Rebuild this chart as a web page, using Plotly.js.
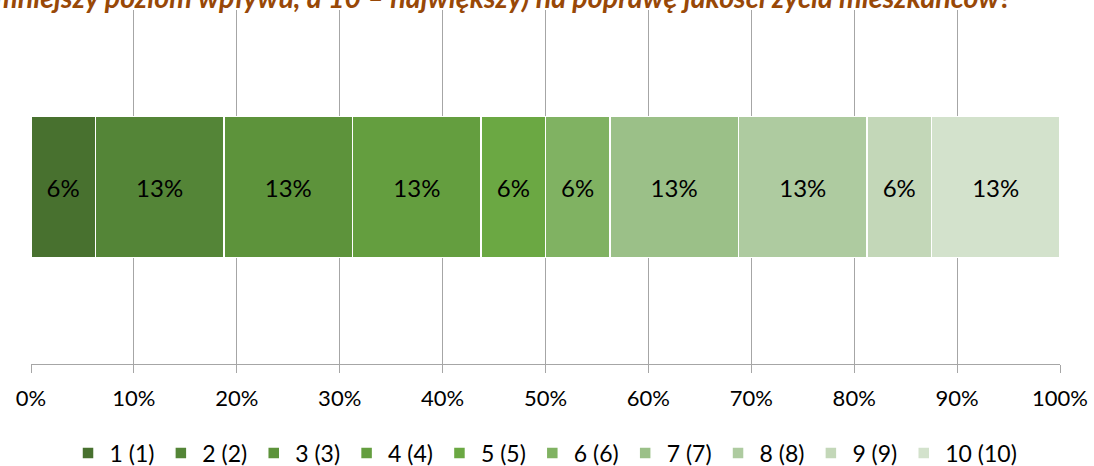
<!DOCTYPE html>
<html>
<head>
<meta charset="utf-8">
<script src="https://cdn.plot.ly/plotly-3.0.1.min.js"></script>
<style>
  html, body { margin: 0; padding: 0; background: #ffffff; }
  #chart { width: 1094px; height: 466px; }
</style>
</head>
<body>
<div id="chart"></div>
<script>
// ---- data ----
const categories = ['Ocena'];
const seriesNames = ['1 (1)', '2 (2)', '3 (3)', '4 (4)', '5 (5)', '6 (6)', '7 (7)', '8 (8)', '9 (9)', '10 (10)'];
const shares = [6.25, 12.5, 12.5, 12.5, 6.25, 6.25, 12.5, 12.5, 6.25, 12.5];
const tickValues = [0, 10, 20, 30, 40, 50, 60, 70, 80, 90, 100];
const tickLabels = ['0%', '10%', '20%', '30%', '40%', '50%', '60%', '70%', '80%', '90%', '100%'];
const titleText = 'mniejszy poziom wpływu, a 10 – największy) na poprawę jakości życia mieszkańców?';

// ---- palette ----
const palette = ['#48712f', '#548537', '#5d933b', '#649e3f', '#6ba843', '#80b262', '#9bc088', '#aecba0', '#c3d7b8', '#d3e2cc'];

const FONT = 'Lato, "Open Sans", sans-serif';

const traces = seriesNames.map((name, i) => ({
  type: 'bar',
  orientation: 'h',
  name: name,
  y: categories,
  x: [shares[i]],
  marker: { color: palette[i], line: { color: '#ffffff', width: 1.5 } },
  text: [Math.round(shares[i]) + '%'],
  textposition: 'inside',
  insidetextanchor: 'middle',
  constraintext: 'none',
  textangle: 0,
  textfont: { family: FONT, size: 24, color: '#000000' },
  hoverinfo: 'skip'
}));

const layout = {
  width: 1094,
  height: 466,
  paper_bgcolor: '#ffffff',
  plot_bgcolor: '#ffffff',
  margin: { l: 31, r: 34, t: 10, b: 102, pad: 0 },
  barmode: 'stack',
  bargap: 0.602,
  showlegend: true,
  font: { family: FONT, size: 22, color: '#000000' },
  annotations: [{
    text: '<b><i>' + titleText + '</i></b>',
    font: { family: FONT, size: 28.6, color: '#984807' },
    xref: 'paper', yref: 'paper',
    x: 0.459, xanchor: 'center',
    y: 1.036, yanchor: 'middle',
    showarrow: false
  }],
  xaxis: {
    range: [0, 100],
    tickmode: 'array',
    tickvals: tickValues,
    ticktext: tickLabels,
    showgrid: true,
    gridcolor: '#a6a6a6',
    gridwidth: 1,
    zeroline: false,
    showline: true,
    linecolor: '#a6a6a6',
    linewidth: 1,
    ticks: 'outside',
    ticklen: 8,
    tickcolor: '#a6a6a6',
    tickwidth: 1,
    ticklabelstandoff: 7,
    tickfont: { family: FONT, size: 22, color: '#000000' },
    fixedrange: true
  },
  yaxis: {
    showticklabels: false,
    showgrid: false,
    zeroline: false,
    showline: false,
    ticks: '',
    fixedrange: true
  },
  legend: {
    orientation: 'h',
    traceorder: 'normal',
    xref: 'container', yref: 'container',
    x: 0.0608, xanchor: 'left',
    y: 0.028, yanchor: 'middle',
    itemwidth: 33,
    font: { family: FONT, size: 23, color: '#000000' },
    bgcolor: 'rgba(0,0,0,0)'
  }
};

Plotly.newPlot('chart', traces, layout, { staticPlot: true, displayModeBar: false });
</script>
</body>
</html>
